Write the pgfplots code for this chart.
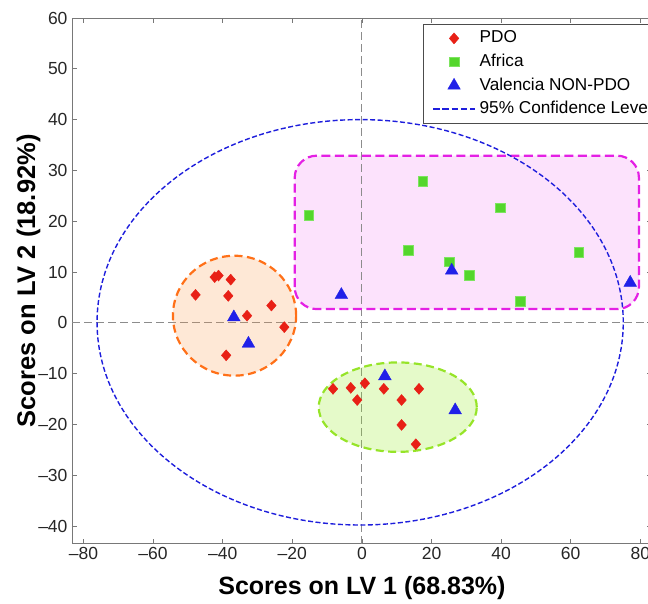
\documentclass[border=0pt]{standalone}
\usepackage{pgfplots}
\pgfplotsset{compat=1.18}
\usepackage{fontspec}
\setmainfont{Liberation Sans}
\definecolor{pdo}{RGB}{232,32,22}
\definecolor{afr}{RGB}{84,214,44}
\definecolor{afredge}{RGB}{125,228,95}
\definecolor{val}{RGB}{32,32,232}
\definecolor{magline}{RGB}{228,32,228}
\definecolor{magfill}{RGB}{252,226,252}
\definecolor{orline}{RGB}{255,112,24}
\definecolor{orfill}{RGB}{250,150,70}
\definecolor{grline}{RGB}{150,228,40}
\definecolor{grfill}{RGB}{150,235,40}
\definecolor{cfblue}{RGB}{30,30,220}
\definecolor{zline}{RGB}{140,140,140}
\definecolor{axgray}{RGB}{120,120,120}
\pgfplotsset{
  mylegend/.style={legend image code/.code={\draw[mark repeat=2,mark phase=2,##1] plot coordinates {(0pt,0pt)(21pt,0pt)(42pt,0pt)};}},
}
\begin{document}
\begin{tikzpicture}
\begin{axis}[
  scale only axis, width=579.8pt, height=525.8pt,
  xmin=-83.3, xmax=83.3, ymin=-43.5, ymax=60,
  xtick={-80,-60,...,80}, ytick={-40,-30,...,60},
  xticklabels={\textendash80,\textendash60,\textendash40,\textendash20,0,20,40,60,80},
  yticklabels={\textendash40,\textendash30,\textendash20,\textendash10,0,10,20,30,40,50,60},
  tick align=inside, major tick length=5pt,
  tick style={axgray, line width=0.8pt},
  axis line style={axgray, line width=0.9pt},
  ticklabel style={font=\fontsize{17.5}{20}\selectfont, text=black!85},
  yticklabel style={xshift=-1pt},
  xlabel={Scores on LV 1 (68.83\%)},
  ylabel={Scores on LV 2 (18.92\%)},
  every axis x label/.style={at={(axis description cs:0.5,0)}, anchor=base, yshift=-51.2pt, font=\fontsize{25}{30}\selectfont\bfseries},
  every axis y label/.style={at={(axis description cs:-0.0638,0.5)}, anchor=base, rotate=90, font=\fontsize{25.5}{30}\selectfont\bfseries},
  legend style={at={(axis description cs:0.606,0.9886)}, anchor=north west, draw=black!70, line width=0.8pt, font=\fontsize{17.2}{20}\selectfont, inner xsep=8.5pt, inner ysep=4.5pt, nodes={inner sep=1.5pt, text height=12.5pt, text depth=3.5pt}, row sep=4.6pt, column sep=2.3pt, cells={anchor=west}},
]
% magenta region fill
\fill[magfill, rounded corners=22pt] (axis cs:-19.3,2.7) rectangle (axis cs:79.6,32.9);
% zero lines
\addplot[zline, dash pattern=on 8pt off 4pt, line width=1.1pt, forget plot] coordinates {(-83.3,0) (83.3,0)};
\addplot[zline, dash pattern=on 8pt off 4pt, line width=1.1pt, forget plot] coordinates {(0,-43.5) (0,60)};
% PDO
\addplot[only marks, mark=diamond*, mark size=5.5pt, mark options={xscale=1.16, fill=pdo, draw=pdo, line width=0.4pt}, mylegend] coordinates {
(-47.8,5.5) (-42.3,9.0) (-41.2,9.3) (-37.7,8.5) (-38.4,5.3) (-26.0,3.4) (-33.0,1.4) (-22.3,-0.85) (-39.0,-6.4)
(-8.3,-13.0) (-3.2,-12.8) (0.85,-11.9) (-1.35,-15.2) (6.3,-13.0) (16.4,-13.0) (11.4,-15.2) (11.4,-20.1) (15.5,-23.9)
};
\addlegendentry{PDO}
% Africa
\addplot[only marks, mark=square*, mark size=4.8pt, mark options={fill=afr, draw=afredge, line width=0.6pt}, mylegend] coordinates {
(17.5,27.9) (-15.3,21.2) (39.8,22.6) (13.3,14.3) (25.1,12.0) (30.9,9.3) (62.3,13.9) (45.5,4.2)
};
\addlegendentry{Africa}
% Valencia NON-PDO
\addplot[only marks, mark=triangle*, mark size=7.3pt, mark options={fill=val, draw=val, line width=0.4pt}, mylegend] coordinates {
(-36.8,1.1) (-32.6,-4.1) (6.6,-10.5) (26.8,-17.2) (25.8,10.3) (-5.9,5.5) (77.1,7.9)
};
\addlegendentry{Valencia NON-PDO}
% overlay fills
\fill[orfill, opacity=0.22] (axis cs:-36.6,1.4) ellipse [x radius=17.7, y radius=11.8];
\fill[grfill, opacity=0.25] (axis cs:10.3,-16.6) ellipse [x radius=22.7, y radius=8.8];
% outlines
\draw[orline, line width=2.2pt, dash pattern=on 8pt off 4.5pt] (axis cs:-36.6,1.4) ellipse [x radius=17.7, y radius=11.8];
\draw[grline, line width=2.2pt, dash pattern=on 8pt off 4.5pt] (axis cs:10.3,-16.6) ellipse [x radius=22.7, y radius=8.8];
\draw[magline, line width=2.2pt, dash pattern=on 9pt off 4.5pt, rounded corners=22pt] (axis cs:-19.3,2.7) rectangle (axis cs:79.6,32.9);
% 95% confidence ellipse
\draw[cfblue, line width=1.4pt, dash pattern=on 5pt off 2.5pt] (axis cs:-0.5,0.1) ellipse [x radius=75.6, y radius=39.9];
\addlegendimage{cfblue, line width=1.6pt, dash pattern=on 6.5pt off 2.8pt, mylegend}
\addlegendentry{95\% Confidence Level}
\end{axis}
\pgfresetboundingbox
\useasboundingbox (-72pt,-60.2pt) rectangle (576pt,543.8pt);
\end{tikzpicture}
\end{document}
